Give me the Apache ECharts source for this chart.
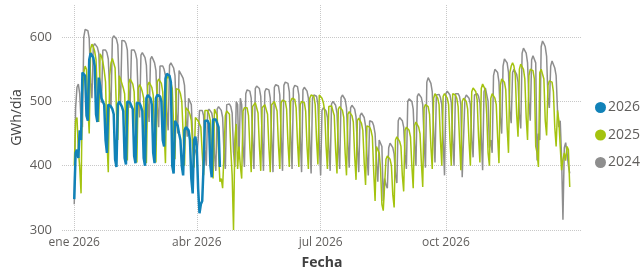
<!DOCTYPE html>
<html>
<head>
<meta charset="utf-8">
<script src="https://cdn.jsdelivr.net/npm/echarts@6/dist/echarts.min.js"></script>
<style>
  html, body { margin: 0; padding: 0; background: #fff; }
  #chart { width: 643px; height: 271px; }
</style>
</head>
<body>
<div id="chart"></div>
<script>
// demanda diaria (GWh/día), un valor por día desde el 1 de enero
const demand2026 = [
  348, 420, 425, 412,
  455, 440, 545, 548, 540, 478, 470,
  565, 575, 572, 568, 555, 480, 468,
  537, 525, 505, 500, 495, 440, 420,
  495, 498, 492, 488, 480, 410, 398,
  495, 500, 498, 492, 485, 412, 402,
  500, 502, 498, 495, 488, 415, 404,
  498, 500, 497, 492, 485, 412, 400,
  505, 510, 508, 505, 495, 420, 404,
  505, 510, 512, 508, 500, 440, 430,
  535, 543, 545, 540, 530, 400, 388,
  470, 468, 462, 450, 440, 400, 385,
  455, 460, 458, 455, 440, 380, 357,
  440, 445, 430, 365, 326, 340, 345,
  400, 470, 472, 470, 465, 400, 382,
  472, 475, 472, 470, 460, 398
]

const demand2025 = [
  400, 470, 475, 425, 398,
  357, 515, 545, 555, 550, 490, 450,
  582, 589, 585, 578, 565, 505, 468,
  574, 570, 562, 548, 530, 440, 390,
  540, 560, 567, 565, 552, 486, 440,
  540, 535, 528, 521, 512, 458, 408,
  528, 535, 532, 527, 515, 455, 405,
  520, 526, 522, 515, 505, 448, 404,
  525, 530, 528, 522, 510, 450, 405,
  530, 535, 533, 528, 515, 455, 404,
  535, 540, 538, 530, 520, 460, 410,
  520, 522, 518, 512, 500, 450, 400,
  490, 488, 485, 480, 470, 430, 397,
  475, 472, 470, 468, 460, 420, 385,
  486, 488, 486, 480, 470, 415, 380,
  488, 490, 478, 420, 375, 380, 365,
  420, 478, 485, 486, 480, 425, 385,
  300, 440, 465, 395, 430, 400, 380,
  485, 490, 492, 490, 478, 428, 390,
  492, 495, 498, 495, 482, 430, 392,
  490, 493, 495, 492, 480, 428, 390,
  495, 498, 500, 497, 485, 432, 395,
  498, 502, 505, 500, 488, 435, 398,
  500, 505, 508, 503, 490, 436, 398,
  495, 500, 502, 498, 485, 430, 395,
  505, 510, 512, 508, 495, 440, 402,
  510, 512, 505, 498, 485, 430, 395,
  492, 495, 493, 490, 478, 425, 388,
  488, 492, 490, 486, 475, 420, 385,
  480, 484, 482, 478, 468, 415, 378,
  470, 474, 472, 466, 455, 405, 370,
  462, 465, 460, 455, 445, 390, 345,
  430, 428, 420, 395, 340, 330, 328,
  410, 415, 413, 410, 400, 355, 335,
  440, 445, 442, 438, 430, 385, 360,
  455, 460, 458, 455, 445, 400, 365,
  462, 468, 465, 460, 450, 405, 367,
  490, 495, 496, 492, 480, 430, 395,
  505, 512, 510, 505, 495, 440, 400,
  508, 512, 510, 505, 495, 440, 400,
  512, 514, 510, 505, 492, 440, 393,
  500, 505, 503, 500, 488, 438, 400,
  515, 521, 520, 515, 502, 445, 405,
  520, 527, 525, 518, 480, 420, 400,
  505, 512, 510, 505, 495, 445, 404,
  525, 535, 537, 530, 518, 460, 420,
  545, 555, 560, 555, 540, 480, 445,
  550, 558, 555, 550, 535, 475, 440,
  540, 550, 552, 548, 535, 430, 420,
  398, 545, 550, 548, 535, 470, 447,
  525, 532, 535, 530, 515, 460, 430,
  486, 470, 430, 393, 410, 420, 408,
  430, 425, 367
]

const demand2024 = [
  340, 490, 522, 527, 512, 470, 460,
  600, 612, 614, 610, 598, 530, 505,
  586, 590, 588, 584, 575, 522, 498,
  580, 583, 580, 576, 566, 515, 490,
  598, 602, 600, 597, 588, 528, 498,
  595, 597, 594, 590, 580, 520, 490,
  580, 583, 580, 575, 565, 505, 475,
  572, 576, 573, 568, 556, 500, 468,
  566, 570, 565, 560, 548, 492, 460,
  555, 558, 555, 550, 540, 485, 455,
  556, 560, 557, 552, 540, 482, 450,
  548, 545, 540, 536, 525, 475, 445,
  505, 502, 495, 445, 420, 425, 415,
  440, 486, 488, 486, 478, 425, 400,
  484, 488, 486, 482, 470, 418, 392,
  488, 492, 490, 486, 475, 420, 395,
  495, 498, 496, 492, 482, 422, 398,
  500, 495, 410, 505, 495, 432, 398,
  512, 518, 520, 516, 505, 440, 395,
  520, 524, 522, 520, 508, 445, 392,
  515, 520, 522, 518, 505, 442, 390,
  522, 526, 528, 524, 510, 445, 392,
  525, 530, 532, 528, 515, 448, 395,
  520, 525, 527, 523, 510, 445, 390,
  518, 522, 521, 516, 505, 440, 388,
  505, 510, 512, 508, 495, 435, 385,
  486, 490, 488, 485, 475, 428, 392,
  496, 500, 498, 494, 482, 432, 395,
  506, 510, 508, 503, 490, 436, 397,
  490, 494, 492, 488, 476, 428, 390,
  478, 482, 480, 475, 462, 418, 385,
  470, 472, 468, 462, 450, 405, 375,
  440, 438, 430, 345, 380, 370, 365,
  428, 435, 432, 428, 418, 385, 373,
  470, 475, 474, 470, 460, 418, 395,
  500, 504, 503, 500, 488, 435, 400,
  508, 512, 510, 506, 495, 440, 397,
  530, 537, 535, 528, 515, 455, 405,
  510, 513, 511, 506, 495, 440, 385,
  512, 516, 514, 510, 498, 440, 400,
  512, 514, 512, 508, 495, 382, 385,
  505, 510, 508, 505, 495, 440, 413,
  510, 513, 512, 508, 497, 445, 393,
  515, 521, 518, 500, 428, 440, 420,
  540, 550, 548, 545, 530, 475, 450,
  555, 566, 565, 560, 545, 485, 466,
  545, 550, 547, 542, 530, 480, 458,
  575, 583, 580, 575, 560, 500, 470,
  565, 571, 568, 560, 408, 450, 440,
  585, 594, 590, 585, 570, 505, 490,
  555, 563, 560, 552, 540, 486, 460,
  470, 413, 316, 428, 436, 420, 400,
  388
]

const seriesNames = ['2026', '2025', '2024']
const seriesColors = ['#1182B8', '#A4C30F', '#8E8E8E']
const monthNames = ['ene', 'feb', 'mar', 'abr', 'may', 'jun', 'jul', 'ago', 'sep', 'oct', 'nov', 'dic']
const labelMonths = ['01', '04', '07', '10']

// eje de fechas: unos días de margen a cada lado del año 2026
const axisStart = Date.UTC(2025, 11, 23)
const axisEnd = Date.UTC(2027, 0, 9)
const DAY = 86400000

const dates = []
for (let t = axisStart; t <= axisEnd; t += DAY) {
  dates.push(new Date(t).toISOString().slice(0, 10))
}
const lead = dates.indexOf('2026-01-01')

const padded = (values) => {
  const out = new Array(lead).fill(null).concat(values)
  while (out.length < dates.length) out.push(null)
  return out
}

const isQuarterStart = (index, value) => {
  return value.slice(0, 4) === '2026' && value.slice(8) === '01' && labelMonths.includes(value.slice(5, 7))
}

const FONT = "'Segoe UI', 'Open Sans', sans-serif"
const gridColor = '#C8C8C8'

const chart = echarts.init(document.getElementById('chart'), null, { renderer: 'canvas' })

chart.setOption({
  animation: false,
  textStyle: { fontFamily: FONT },
  grid: { left: 62, right: 61, top: 5, bottom: 41, containLabel: false, outerBoundsMode: 'none' },
  legend: {
    orient: 'vertical',
    left: 590,
    top: 94,
    icon: 'circle',
    itemWidth: 11,
    itemHeight: 11,
    itemGap: 10.5,
    data: seriesNames,
    textStyle: { fontFamily: FONT, fontSize: 14, color: '#605E5C', padding: [0, 0, 0, -3], lineHeight: 17 }
  },
  xAxis: {
    type: 'category',
    data: dates,
    boundaryGap: false,
    name: 'Fecha',
    nameLocation: 'middle',
    nameGap: 26,
    nameTextStyle: { fontFamily: FONT, fontSize: 14, fontWeight: 'bold', color: '#404040' },
    axisLine: { show: false },
    axisTick: { show: false },
    axisLabel: {
      interval: isQuarterStart,
      margin: 7,
      fontSize: 12,
      color: '#605E5C',
      formatter: (value) => monthNames[parseInt(value.slice(5, 7), 10) - 1] + ' ' + value.slice(0, 4)
    },
    splitLine: {
      show: true,
      interval: isQuarterStart,
      lineStyle: { type: 'dotted', color: gridColor, width: 1 }
    }
  },
  yAxis: {
    type: 'value',
    min: 300,
    max: 650,
    interval: 100,
    name: 'GWh/día',
    nameLocation: 'middle',
    nameGap: 38,
    nameMoveOverlap: false,
    nameTextStyle: { fontFamily: FONT, fontSize: 14, color: '#404040' },
    axisLine: { show: false },
    axisTick: { show: false },
    axisLabel: { margin: 10, fontSize: 13, color: '#605E5C', showMaxLabel: false },
    splitLine: {
      lineStyle: { type: 'dotted', color: [gridColor, gridColor, gridColor, gridColor, 'rgba(0,0,0,0)'], width: 1 }
    }
  },
  series: [
    {
      name: '2024',
      type: 'line',
      data: padded(demand2024),
      showSymbol: false,
      color: seriesColors[2],
      lineStyle: { width: 1.5 },
      z: 1
    },
    {
      name: '2025',
      type: 'line',
      data: padded(demand2025),
      showSymbol: false,
      color: seriesColors[1],
      lineStyle: { width: 1.5 },
      z: 2
    },
    {
      name: '2026',
      type: 'line',
      data: padded(demand2026),
      showSymbol: false,
      color: seriesColors[0],
      lineStyle: { width: 2.5 },
      z: 3
    }
  ]
})
</script>
</body>
</html>
